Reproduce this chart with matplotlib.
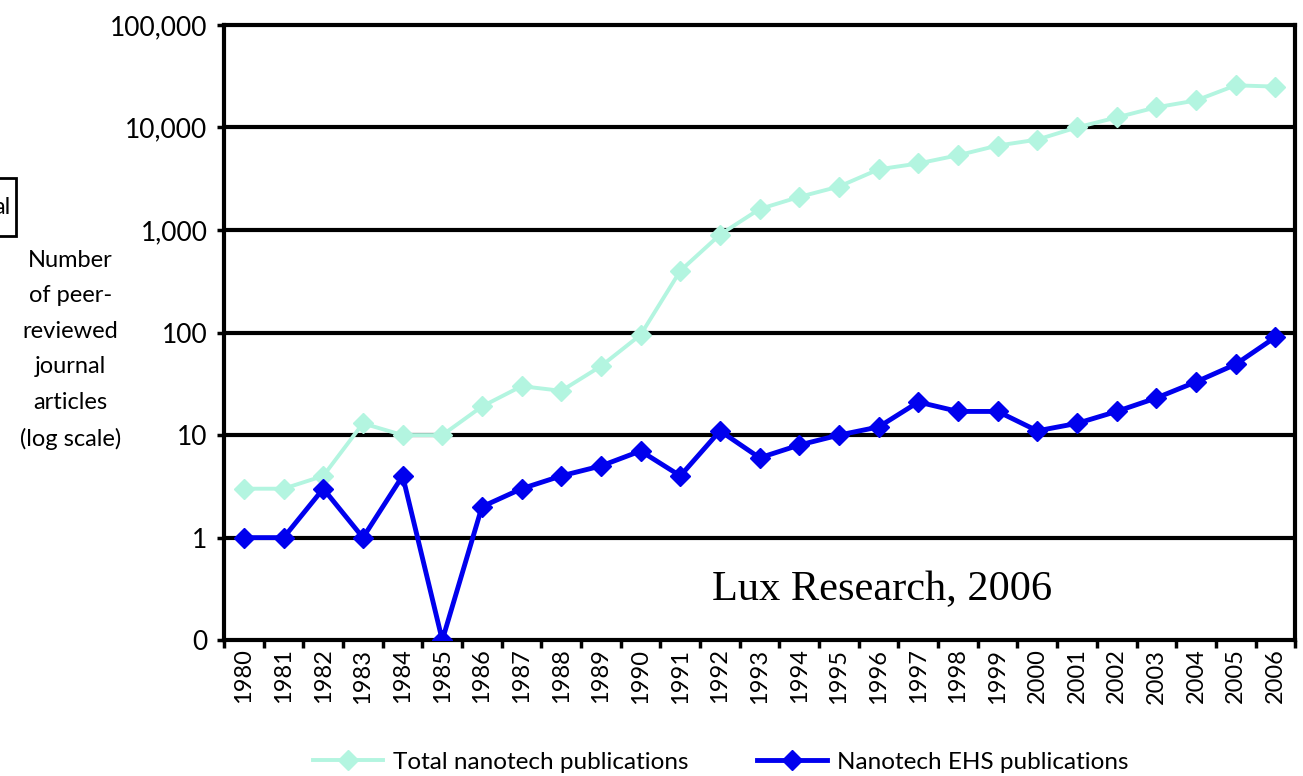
import numpy as np
import matplotlib.pyplot as plt
from matplotlib.patches import Rectangle
from matplotlib.ticker import FixedLocator, FixedFormatter, NullLocator

years = [str(y) for y in range(1980, 2007)]
total_pubs = [3, 3, 4, 13, 10, 10, 19, 30, 27, 47, 95, 400, 900, 1600, 2100,
              2650, 3900, 4450, 5350, 6650, 7600, 10000, 12500, 15700, 18300,
              25700, 25000]
# 0 publications in 1985 is drawn on the "0" line (bottom of log axis)
ehs_pubs = [1, 1, 3, 1, 4, 0.1, 2, 3, 4, 5, 7, 4, 11, 6, 8, 10, 12, 21, 17,
            17, 11, 13, 17, 23, 33, 49, 90]
ytick_vals = [0.1, 1, 10, 100, 1000, 10000, 100000]
ytick_labels = ['0', '1', '10', '100', '1,000', '10,000', '100,000']

plt.rcParams['font.family'] = ['Lato', 'DejaVu Sans']

fig = plt.figure(figsize=[13.03, 7.76], dpi=100)
ax = fig.add_axes([0.172, 0.175, 0.822, 0.793])

x = np.arange(len(years))
ax.plot(x, total_pubs, color='#b3f5e0', lw=2.8, marker='D', ms=10,
        label='Total nanotech publications', zorder=3)
ax.plot(x, ehs_pubs, color='#0000ee', lw=3.5, marker='D', ms=10,
        label='Nanotech EHS publications', zorder=4)

ax.set_yscale('log')
ax.set_ylim(0.1, 100000)
ax.yaxis.set_major_locator(FixedLocator(ytick_vals))
ax.yaxis.set_major_formatter(FixedFormatter(ytick_labels))
ax.yaxis.set_minor_locator(NullLocator())
for v in ytick_vals[1:-1]:
    ax.axhline(v, color='black', lw=3, zorder=2)

ax.set_xlim(-0.5, len(years) - 0.5)
ax.set_xticks(np.arange(-0.5, len(years)), minor=False)
ax.set_xticklabels([])
ax.set_xticks(x, minor=True)
ax.set_xticklabels(years, minor=True, rotation=90, fontsize=17)
ax.tick_params(axis='x', which='major', length=6, width=2.5, direction='out')
ax.tick_params(axis='x', which='minor', length=0, pad=6)
ax.tick_params(axis='y', which='major', length=5, width=2.5, labelsize=19, pad=7)

for s in ax.spines.values():
    s.set_linewidth(3)
    s.set_zorder(2)

fig.text(0.054, 0.549, 'Number\nof peer-\nreviewed\njournal\narticles\n(log scale)',
         ha='center', va='center', fontsize=17, linespacing=1.85)

# clipped box at the left edge
fig.patches.append(Rectangle((-0.02, 1 - 236 / 776), 0.032, 58 / 776,
                             transform=fig.transFigure, facecolor='none',
                             edgecolor='black', lw=2))
fig.text(10 / 1303, 1 - 207 / 776, 'al', ha='right', va='center', fontsize=17)

ax.text(0.614, 0.082, 'Lux Research, 2006', transform=ax.transAxes,
        ha='center', va='center', fontsize=30.5, family='Liberation Serif')

fig.legend(loc='center', bbox_to_anchor=(0.553, 0.018), ncol=2,
           frameon=False, fontsize=17.5, handlelength=2.9, handletextpad=0.4,
           columnspacing=2.8)

fig.savefig('out.png', dpi=100)
